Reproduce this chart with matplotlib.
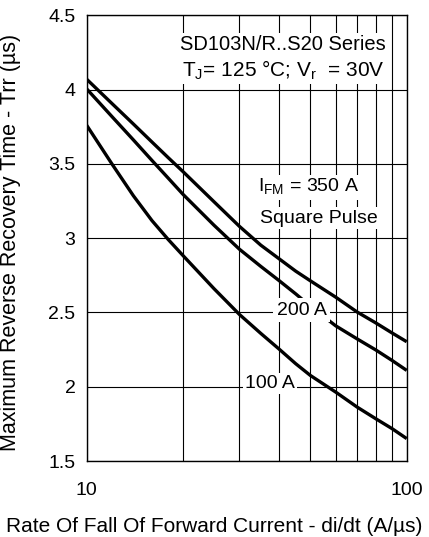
"""Reverse recovery time vs di/dt chart (SD103N/R..S20 series)."""

import matplotlib

matplotlib.use("Agg")
import matplotlib.pyplot as plt
from matplotlib.ticker import FixedLocator, NullFormatter

plt.rcParams["font.family"] = ["Liberation Sans", "DejaVu Sans"]

# values
didt = [10, 12, 14, 16, 18, 20, 25, 30, 35, 40, 45, 50, 60, 70, 80, 90, 100]
trr_350a = [4.07, 3.906, 3.768, 3.647, 3.541, 3.448, 3.245, 3.08, 2.953, 2.86, 2.778,
            2.713, 2.603, 2.503, 2.43, 2.362, 2.303]
trr_200a = [4.005, 3.818, 3.661, 3.523, 3.403, 3.295, 3.087, 2.926, 2.81, 2.713, 2.625,
            2.542, 2.41, 2.322, 2.248, 2.177, 2.11]
trr_100a = [3.76, 3.499, 3.285, 3.118, 2.99, 2.883, 2.66, 2.487, 2.359, 2.252, 2.155,
            2.076, 1.964, 1.863, 1.785, 1.718, 1.651]

x_ticks = [10, 100]
x_tick_labels = ["10", "100"]
y_ticks = [1.5, 2, 2.5, 3, 3.5, 4, 4.5]
y_tick_labels = ["1.5", "2", "2.5", "3", "3.5", "4", "4.5"]


def main() -> None:
    fig = plt.figure(figsize=(4.29, 5.37), dpi=100)
    ax = fig.add_axes([0.202, 0.1415, 0.746, 0.830])

    for values in (trr_350a, trr_200a, trr_100a):
        ax.plot(didt, values, color="black", linewidth=2.4, solid_capstyle="butt",
                solid_joinstyle="round", zorder=3)

    ax.set_xscale("log")
    ax.set_xlim(10, 100)
    ax.set_ylim(1.5, 4.5)
    ax.xaxis.set_major_locator(FixedLocator(x_ticks))
    ax.xaxis.set_minor_locator(FixedLocator([20, 30, 40, 50, 60, 70, 80, 90]))
    ax.xaxis.set_minor_formatter(NullFormatter())
    ax.set_xticklabels(x_tick_labels)
    ax.set_yticks(y_ticks)
    ax.set_yticklabels(y_tick_labels)
    ax.tick_params(which="both", length=0, pad=8, labelsize=14)
    ax.tick_params(axis="x", pad=15)
    ax.grid(True, which="both", color="black", linewidth=0.8, zorder=1)
    for spine in ax.spines.values():
        spine.set_linewidth(1.0)

    box = dict(facecolor="white", edgecolor="none", pad=1.5)
    ax.text(0.935, 0.935, "SD103N/R..S20 Series", transform=ax.transAxes, ha="right",
            va="center", fontsize=14.5, bbox=box, zorder=4)
    ax.text(0.93, 0.877, r"T$_\mathregular{J}$= 125 °C; V$_\mathregular{r}$  = 30V",
            transform=ax.transAxes, ha="right", va="center", fontsize=15, bbox=box, zorder=4)
    ax.text(0.535, 0.614, r"I$_\mathregular{FM}$ = 350 A", transform=ax.transAxes, ha="left",
            va="center", fontsize=14, bbox=box, zorder=4)
    ax.text(0.542, 0.545, "Square Pulse", transform=ax.transAxes, ha="left",
            va="center", fontsize=14, bbox=box, zorder=4)
    ax.text(39.2, 2.515, "200 A", ha="left", va="center", fontsize=14,
            bbox=dict(facecolor="white", edgecolor="none", pad=2.5), zorder=4)
    ax.text(31.3, 2.02, "100 A", ha="left", va="center", fontsize=14, bbox=box, zorder=4)

    ax.set_ylabel("Maximum Reverse Recovery Time - Trr (µs)", fontsize=15.5)
    ax.yaxis.set_label_coords(-0.205, 0.49)
    ax.set_xlabel("Rate Of Fall Of Forward Current - di/dt (A/µs)", fontsize=15)
    ax.xaxis.set_label_coords(0.399, -0.125)

    fig.savefig("out.png", dpi=100)
    plt.close(fig)


if __name__ == "__main__":
    main()
